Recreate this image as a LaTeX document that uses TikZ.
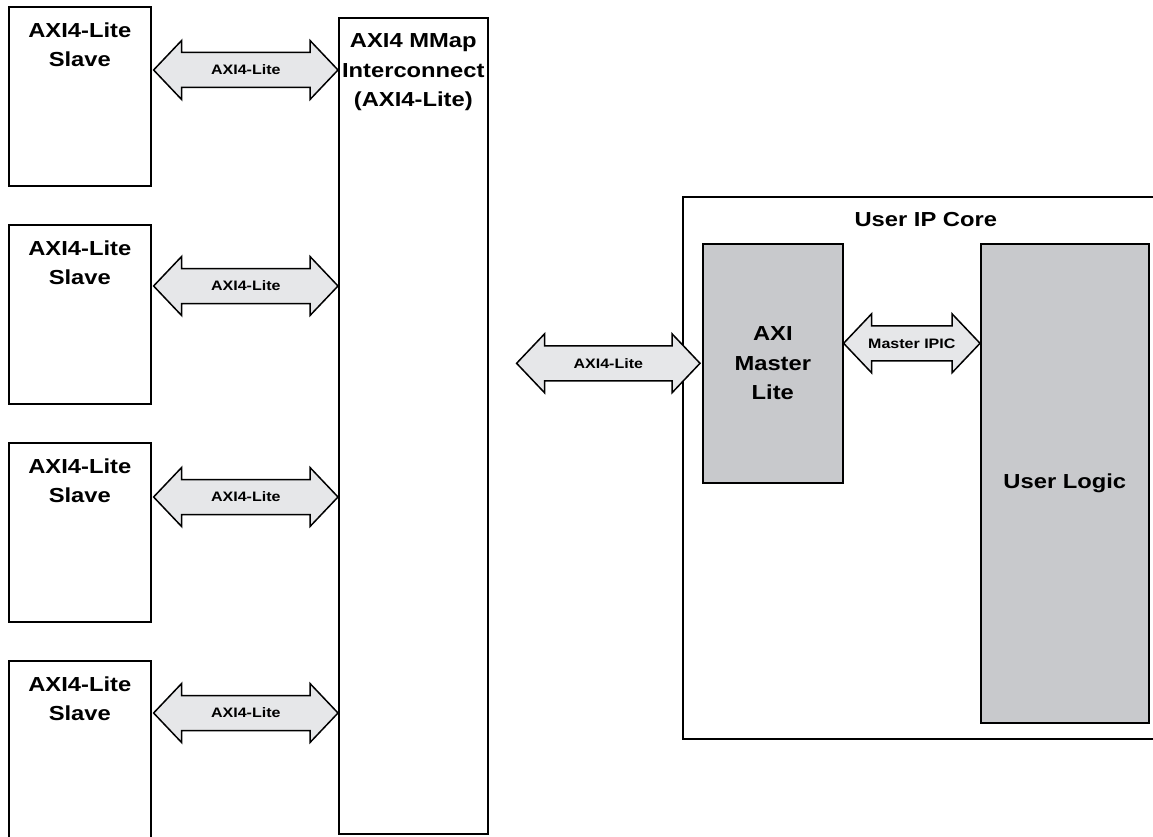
\documentclass[tikz,border=0pt]{standalone}
\usepackage{fontspec}
\setmainfont{Liberation Sans}[FakeStretch=1.17]
\usetikzlibrary{calc,shadows}
\definecolor{boxgray}{RGB}{200,201,204}
\definecolor{busgray}{RGB}{230,231,233}
\begin{document}
\begin{tikzpicture}[x=1pt,y=-1pt,line join=miter,
	font=\fontsize{20.3}{29.5}\selectfont\bfseries,
	box/.style={draw,line width=1.6pt,fill=white,inner sep=0pt,anchor=north west,
		drop shadow={shadow xshift=1.2pt,shadow yshift=-1.2pt,fill=black!60,opacity=1}},
	title/.style={anchor=north,align=center,inner sep=0pt,yshift=-16.5pt},
	buslabel/.style={font=\fontsize{13.7}{16}\selectfont\bfseries,inner sep=0pt},
	bus/.style={line width=1.5pt,fill=busgray,to path={
		let \p1=(\tikztostart),\p2=(\tikztotarget) in
		(\p1) -- (\x1+28pt,\y1+29.5pt) -- (\x1+28pt,\y1+17.5pt) -- (\x2-28pt,\y1+17.5pt)
		-- (\x2-28pt,\y1+29.5pt) -- (\p2) -- (\x2-28pt,\y1-29.5pt) -- (\x2-28pt,\y1-17.5pt)
		-- (\x1+28pt,\y1-17.5pt) -- (\x1+28pt,\y1-29.5pt) -- cycle
		node[buslabel] at ($(\p1)!0.5!(\p2)$) {#1}}}]
	\useasboundingbox (0,0) rectangle (1153,837);
	\clip (0,0) rectangle (1153,837);
	% interconnect
	\node[box,minimum width=149,minimum height=816] (icon) at (338,17) {};
	\node[title] at (icon.north) {AXI4 MMap\\Interconnect\\(AXI4-Lite)};
	% slaves
	\foreach \i/\y/\d in {1/6/64,2/224/62,3/442/55,4/660/53}{
		\node[box,minimum width=142,minimum height=179] (slave\i) at (8,\y) {};
		\node[title] at (slave\i.north) {AXI4-Lite\\Slave};
		\draw[bus=AXI4-Lite] ($(slave\i.north east)+(2,\d)$) to ($(slave\i.north east -| icon.west)+(0,\d)$);
	}
	% user IP core
	\node[box,minimum width=486,minimum height=542] (ipcore) at (682,196) {};
	\node[title] at (ipcore.north) {User IP Core};
	\node[box,fill=boxgray,minimum width=140,minimum height=239,align=center] (master) at (702,243) {AXI\\Master\\Lite};
	\node[box,fill=boxgray,minimum width=168,minimum height=479] (ulogic) at (980,243) {User Logic};
	\draw[bus=AXI4-Lite] ($(icon.east |- master.west)+(28,0)$) to ($(master.west)+(-2,0)$);
	\draw[bus=Master IPIC] ($(master.east)+(0,-20)$) to ($(ulogic.west |- master.east)+(0,-20)$);
\end{tikzpicture}
\end{document}
